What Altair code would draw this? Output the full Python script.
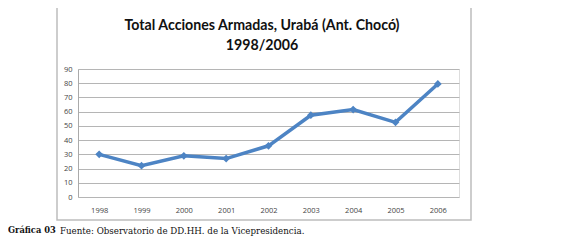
import altair as alt
import pandas as pd

years = ["1998", "1999", "2000", "2001", "2002", "2003", "2004", "2005", "2006"]
values = [30, 22, 29, 27, 36, 57.5, 61.5, 52.5, 79.5]
title_lines = ["Total Acciones Armadas, Urabá (Ant. Chocó)", "1998/2006"]
caption_bold = "Gráfica 03"
caption_text = "Fuente: Observatorio de DD.HH. de la Vicepresidencia."
y_ticks = [0, 10, 20, 30, 40, 50, 60, 70, 80, 90]

df = pd.DataFrame({"year": years, "value": values})

W, H = 381, 128
BLUE = "#4d84c4"

x_enc = alt.X("year:O", scale=alt.Scale(type="point", padding=0.5),
              axis=alt.Axis(title=None, labelAngle=0, ticks=False, domain=False,
                            labelFontSize=7.5, labelColor="#444", labelFont="Open Sans",
                            labelPadding=9, grid=False))
y_enc = alt.Y("value:Q", scale=alt.Scale(domain=[0, 90], nice=False),
              axis=alt.Axis(title=None, values=y_ticks, ticks=False, domain=True,
                            domainColor="#aaa", labelFontSize=7.5, labelColor="#444",
                            labelFont="Open Sans", labelPadding=6, labelOverlap=False,
                            gridColor="#b5b5b5", gridWidth=1))

box = alt.Chart(pd.DataFrame({"a": [0]})).mark_rect(
    fill="transparent", stroke="#bdbdbd", strokeWidth=1.5, clip=False
).encode(x=alt.value(-21), x2=alt.value(393), y=alt.value(-64), y2=alt.value(151))

line = alt.Chart(df).mark_line(color=BLUE, strokeWidth=3.5).encode(x=x_enc, y=y_enc)
pts = alt.Chart(df).mark_point(shape="diamond", filled=True, color=BLUE, size=60, opacity=1).encode(
    x=x_enc, y=y_enc)

t1 = alt.Chart(pd.DataFrame({"t": [title_lines[0]]})).mark_text(
    font="Lato", fontWeight="bold", fontSize=14.2, color="#111", align="center", baseline="middle", clip=False
).encode(x=alt.value(184), y=alt.value(-43), text="t:N")
t2 = alt.Chart(pd.DataFrame({"t": [title_lines[1]]})).mark_text(
    font="Lato", fontWeight="bold", fontSize=14.2, color="#111", align="center", baseline="middle", clip=False
).encode(x=alt.value(184), y=alt.value(-23), text="t:N")

c1 = alt.Chart(pd.DataFrame({"t": [caption_bold]})).mark_text(
    font="DejaVu Serif", fontWeight="bold", fontSize=8.3, color="#111", align="left", baseline="middle", clip=False
).encode(x=alt.value(-70), y=alt.value(162), text="t:N")
c2 = alt.Chart(pd.DataFrame({"t": [caption_text]})).mark_text(
    font="DejaVu Serif", fontSize=8.7, color="#111", align="left", baseline="middle", clip=False
).encode(x=alt.value(-18), y=alt.value(162), text="t:N")

chart = alt.layer(box, line, pts, t1, t2, c1, c2).properties(
    width=W, height=H,
    autosize=alt.AutoSizeParams(type="none"),
    padding={"left": 70, "top": 61, "right": 111, "bottom": 44},
).configure_view(stroke=None).configure(background="white")

chart.save("out.html", embed_options={"renderer": "svg", "actions": False})
